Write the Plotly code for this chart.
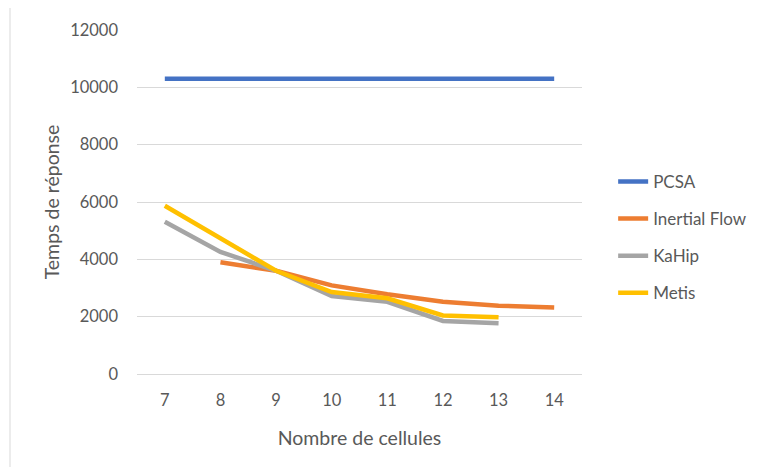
import plotly.graph_objects as go

categories = ["7", "8", "9", "10", "11", "12", "13", "14"]
pcsa = [10300, 10300, 10300, 10300, 10300, 10300, 10300, 10300]
inertial = [None, 3900, 3600, 3090, 2780, 2520, 2380, 2320]
kahip = [5310, 4260, 3600, 2720, 2520, 1850, 1770, None]
metis = [5870, 4750, 3600, 2860, 2640, 2040, 1980, None]
y_ticks = [0, 2000, 4000, 6000, 8000, 10000, 12000]

series = [
    ("PCSA", pcsa, "#4472C4"),
    ("Inertial Flow", inertial, "#ED7D31"),
    ("KaHip", kahip, "#A5A5A5"),
    ("Metis", metis, "#FFC000"),
]

fig = go.Figure()
for i, (name, vals, color) in enumerate(series):
    fig.add_trace(go.Scatter(
        x=categories, y=vals, name=name, mode="lines",
        line=dict(color=color, width=4.5), legendgroup=str(i),
        connectgaps=False,
    ))

font_fam = "Lato, 'Liberation Sans', sans-serif"
# page has an 8px body margin; figure coordinates are page minus 8
fig.update_layout(
    width=761, height=459,
    margin=dict(l=129, r=187, t=22, b=93),
    paper_bgcolor="white", plot_bgcolor="white",
    font=dict(family=font_fam, color="#595959"),
    xaxis=dict(
        type="category", range=[-0.5, 7.5], showgrid=False, zeroline=False,
        showline=False, ticks="", tickfont=dict(size=16.5, color="#595959"),
        ticklabelstandoff=14,
        title=dict(text="Nombre de cellules", font=dict(size=19.5, color="#595959"), standoff=22),
    ),
    yaxis=dict(
        range=[0, 12000], tickvals=y_ticks, tickformat="d", showgrid=True, gridcolor="#D9D9D9",
        gridwidth=1, zeroline=True, zerolinecolor="#D9D9D9", zerolinewidth=1,
        tickfont=dict(size=16.5, color="#595959"), ticks="", ticklabelstandoff=18,
        title=dict(text="Temps de réponse", font=dict(size=19.5, color="#595959"), standoff=5),
    ),
    legend=dict(
        x=1.07, y=0.397, xanchor="left", yanchor="middle",
        font=dict(size=17, color="#595959"), tracegroupgap=12,
        bgcolor="rgba(0,0,0,0)",
    ),
    shapes=[dict(
        type="rect", xref="paper", yref="paper",
        x0=(10 - 137) / 445, x1=(800 - 137) / 445,
        y0=(374 - 500) / 344, y1=(374 - 7) / 344,
        line=dict(color="#D9D9D9", width=1), fillcolor="rgba(0,0,0,0)", layer="below",
    )],
)

fig.write_html("out.html")
